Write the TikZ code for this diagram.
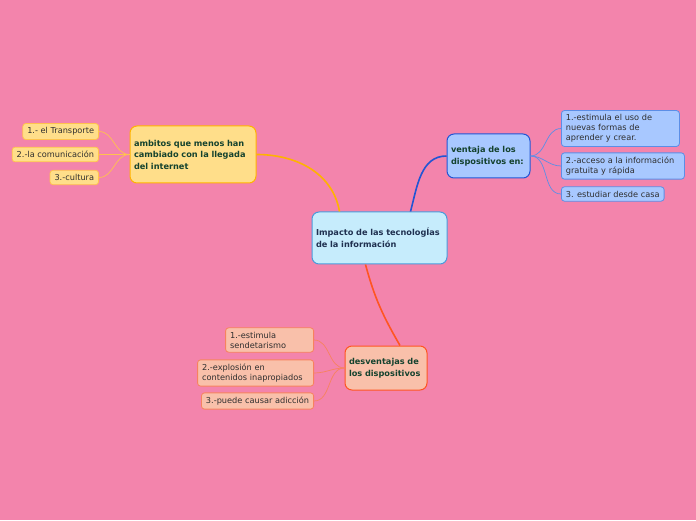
\documentclass[tikz,border=0pt]{standalone}
\usepackage{fontspec}
\setmainfont{DejaVu Sans}
\usepackage{xcolor}
\usetikzlibrary{positioning}
\definecolor{mapbg}{HTML}{F384AC}
\definecolor{ambfill}{HTML}{FFDE8A}
\definecolor{ambline}{HTML}{FFB300}
\definecolor{ambleaf}{HTML}{FFC24D}
\definecolor{venfill}{HTML}{A8C8FF}
\definecolor{venline}{HTML}{2255D4}
\definecolor{venleaf}{HTML}{5C8EE6}
\definecolor{desfill}{HTML}{F9C0AA}
\definecolor{desline}{HTML}{FF5522}
\definecolor{desleaf}{HTML}{F7825E}
\definecolor{impfill}{HTML}{C6ECFC}
\definecolor{impline}{HTML}{4A9ADB}
\definecolor{topictext}{HTML}{14422E}
\definecolor{imptext}{HTML}{1F3050}
\definecolor{leaftext}{HTML}{2E2E2E}

\begin{document}
\begin{tikzpicture}[x=1pt, y=1pt]
  \tikzstyle{topic}=[rounded corners=7pt, line width=1pt, align=left, text=topictext, font=\bfseries\fontsize{8.2}{11.5}\selectfont, inner xsep=4pt, inner ysep=3pt]
  \tikzstyle{leaf}=[rounded corners=3pt, line width=0.8pt, align=left, text=leaftext, font=\fontsize{8.2}{10}\selectfont, inner xsep=4.5pt, inner ysep=4pt]
  \tikzstyle{branch}=[line width=1.6pt]
  \tikzstyle{twig}=[line width=0.7pt]

  \fill[mapbg] (0,0) rectangle (696,520);
  \useasboundingbox (0,0) rectangle (696,520);

  % central topic
  \node[topic, draw=impline, fill=impfill, text=imptext, minimum width=135, minimum height=52, text width=127] (imp) at (379.5,282) {Impacto de las tecnologÍas\\de la información};

  % main topics
  \node[topic, draw=ambline, fill=ambfill, minimum width=126, minimum height=57, text width=118] (amb) at (193,365.5) {ambitos que menos han\\cambiado con la llegada\\del internet};
  \node[topic, draw=venline, fill=venfill, minimum width=83, minimum height=44, text width=75] (ven) at (488.5,364) {ventaja de los\\dispositivos en:};
  \node[topic, draw=desline, fill=desfill, minimum width=82, minimum height=44, text width=74] (des) at (386,152) {desventajas de\\los dispositivos};

  % leaves
  \node[leaf, draw=ambleaf, fill=ambfill, anchor=east] (amb1) at (99,388.5) {1.- el Transporte};
  \node[leaf, draw=ambleaf, fill=ambfill, anchor=east] (amb2) at (99,365.5) {2.-la comunicación};
  \node[leaf, draw=ambleaf, fill=ambfill, anchor=east] (amb3) at (99,342.5) {3.-cultura};

  \node[leaf, draw=venleaf, fill=venfill, anchor=west, text width=109] (ven1) at (561,391.5) {1.-estimula el uso de\\nuevas formas de\\aprender y crear.};
  \node[leaf, draw=venleaf, fill=venfill, anchor=west, text width=114] (ven2) at (561,354) {2.-acceso a la información\\gratuita y rápida};
  \node[leaf, draw=venleaf, fill=venfill, anchor=west] (ven3) at (561,326) {3. estudiar desde casa};

  \node[leaf, draw=desleaf, fill=desfill, anchor=east, text width=79] (des1) at (314,180) {1.-estimula\\sendetarismo};
  \node[leaf, draw=desleaf, fill=desfill, anchor=east, text width=107] (des2) at (314,147) {2.-explosión en\\contenidos inapropiados};
  \node[leaf, draw=desleaf, fill=desfill, anchor=east] (des3) at (314,119) {3.-puede causar adicción};

  % branches
  \draw[branch, ambline] ([xshift=28pt]imp.north west) to[out=100, in=0] (amb.east);
  \draw[branch, venline] ([xshift=-37pt]imp.north east) to[out=75, in=180] (ven.west);
  \draw[branch, desline] ([xshift=-14pt]imp.south) to[out=-75, in=120] ([xshift=14pt]des.north);

  \draw[twig, ambleaf] (amb.west) to[out=180, in=0] (amb1.east);
  \draw[twig, ambleaf] (amb.west) to[out=180, in=0] (amb2.east);
  \draw[twig, ambleaf] (amb.west) to[out=180, in=0] (amb3.east);
  \draw[twig, venleaf] (ven.east) to[out=0, in=180] (ven1.west);
  \draw[twig, venleaf] (ven.east) to[out=0, in=180] (ven2.west);
  \draw[twig, venleaf] (ven.east) to[out=0, in=180] (ven3.west);
  \draw[twig, desleaf] (des.west) to[out=180, in=0] (des1.east);
  \draw[twig, desleaf] (des.west) to[out=180, in=0] (des2.east);
  \draw[twig, desleaf] (des.west) to[out=180, in=0] (des3.east);
\end{tikzpicture}
\end{document}
